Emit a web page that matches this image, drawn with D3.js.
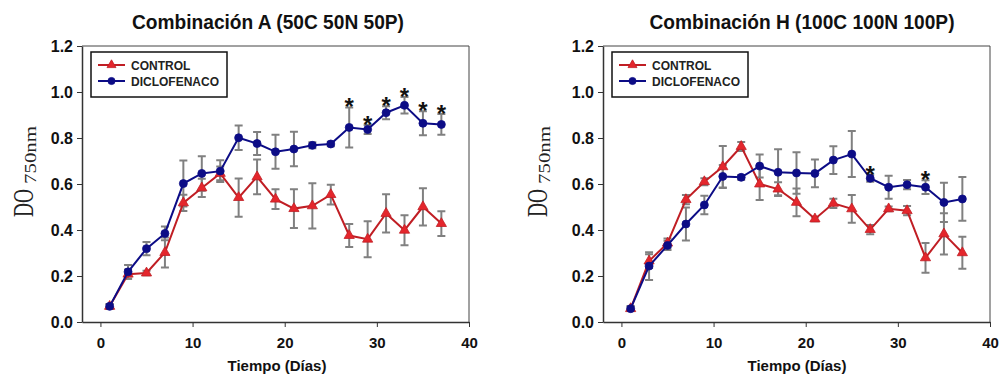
<!DOCTYPE html>
<html>
<head>
<meta charset="utf-8">
<script src="https://cdn.jsdelivr.net/npm/d3@7"></script>
<style>
  body { margin: 0; background: #fff; }
  svg { display: block; }
  .tick text { font-family: "Liberation Sans", Arial, sans-serif; font-weight: bold; }
</style>
</head>
<body>
<div id="chart"></div>
<script>
// days sampled
const days = [1, 3, 5, 7, 9, 11, 13, 15, 17, 19, 21, 23, 25, 27, 29, 31, 33, 35, 37];

// Combinacion A
const ctrlA    = [0.068, 0.208, 0.213, 0.302, 0.518, 0.583, 0.646, 0.541, 0.631, 0.534, 0.493, 0.505, 0.554, 0.376, 0.360, 0.472, 0.399, 0.501, 0.428];
const ctrlAErr = [0.010, 0.020, 0.010, 0.065, 0.035, 0.040, 0.030, 0.083, 0.076, 0.043, 0.084, 0.098, 0.043, 0.050, 0.078, 0.083, 0.065, 0.081, 0.054];
const dicA     = [0.068, 0.218, 0.319, 0.385, 0.602, 0.646, 0.656, 0.801, 0.776, 0.740, 0.752, 0.768, 0.774, 0.846, 0.837, 0.910, 0.942, 0.864, 0.859];
const dicAErr  = [0.010, 0.030, 0.029, 0.030, 0.100, 0.075, 0.047, 0.053, 0.050, 0.074, 0.075, 0.013, 0.010, 0.087, 0.020, 0.028, 0.036, 0.052, 0.045];
const starsA   = [27, 29, 31, 33, 35, 37];

// Combinacion H
const ctrlH    = [0.058, 0.265, 0.343, 0.532, 0.610, 0.675, 0.763, 0.600, 0.578, 0.520, 0.448, 0.516, 0.492, 0.402, 0.492, 0.484, 0.279, 0.383, 0.301];
const ctrlHErr = [0.010, 0.030, 0.020, 0.020, 0.015, 0.090, 0.020, 0.070, 0.030, 0.060, 0.010, 0.020, 0.060, 0.020, 0.010, 0.020, 0.065, 0.090, 0.070];
const dicH     = [0.058, 0.243, 0.333, 0.426, 0.509, 0.633, 0.629, 0.678, 0.651, 0.648, 0.646, 0.704, 0.730, 0.625, 0.586, 0.597, 0.586, 0.520, 0.535];
const dicHErr  = [0.010, 0.060, 0.020, 0.072, 0.040, 0.050, 0.010, 0.050, 0.100, 0.090, 0.060, 0.060, 0.100, 0.015, 0.050, 0.020, 0.030, 0.085, 0.095];
const starsH   = [27, 33];

const xTicks = [0, 10, 20, 30, 40];
const yTicks = [0, 0.2, 0.4, 0.6, 0.8, 1.0, 1.2];
const seriesNames = ["CONTROL", "DICLOFENACO"];

const W = 999, H = 379;
const red = "#c01e24", redFill = "#e4262c", blue = "#0c0c86", errColor = "#808080";

const svg = d3.select("#chart").append("svg")
  .attr("width", W)
  .attr("height", H);

function drawPanel(p) {
  const pw = 387, ph = 276;
  const g = svg.append("g").attr("transform", "translate(" + p.left + "," + p.top + ")");

  const x = d3.scaleLinear().domain([-2, 40]).range([0, pw]);
  const y = d3.scaleLinear().domain([0, 1.2]).range([ph, 0]);

  // frame (top/right)
  g.append("path")
    .attr("d", "M0,0H" + pw + "V" + ph)
    .attr("fill", "none")
    .attr("stroke", "#444")
    .attr("stroke-width", 1);

  const xAxis = g.append("g")
    .attr("transform", "translate(0," + ph + ")")
    .call(d3.axisBottom(x).tickValues(xTicks).tickSize(5).tickPadding(10).tickSizeOuter(0));
  const yAxis = g.append("g")
    .call(d3.axisLeft(y).tickValues(yTicks).tickFormat(d3.format(".1f")).tickSize(5).tickPadding(4).tickSizeOuter(0));

  [xAxis, yAxis].forEach(a => {
    a.select(".domain").attr("stroke", "#333").attr("stroke-width", 1.5);
    a.selectAll(".tick line").attr("stroke", "#333");
    a.selectAll(".tick text").attr("fill", "#111");
  });
  xAxis.selectAll(".tick text").style("font-size", "15px");
  yAxis.selectAll(".tick text").style("font-size", "16px");

  const series = [
    { vals: p.ctrl, err: p.ctrlErr, color: red, fill: redFill, shape: d3.symbolTriangle },
    { vals: p.dic, err: p.dicErr, color: blue, fill: blue, shape: d3.symbolCircle }
  ];

  // error bars
  series.forEach(s => {
    const eb = g.append("g")
      .attr("stroke", errColor)
      .attr("stroke-width", 2)
      .attr("fill", "none");
    eb.selectAll("path")
      .data(days.map((d, i) => [d, s.vals[i], s.err[i]]))
      .enter()
      .append("path")
      .attr("d", d => {
        const cx = x(d[0]), t = y(d[1] + d[2]), b = y(d[1] - d[2]);
        return "M" + (cx - 4) + "," + t + "H" + (cx + 4) + "M" + cx + "," + t + "V" + b + "M" + (cx - 4) + "," + b + "H" + (cx + 4);
      });
  });

  const line = d3.line().x(d => x(d[0])).y(d => y(d[1]));

  series.forEach(s => {
    const pts = days.map((d, i) => [d, s.vals[i]]);
    g.append("path")
      .datum(pts)
      .attr("d", line)
      .attr("fill", "none")
      .attr("stroke", s.color)
      .attr("stroke-width", 2);
    g.selectAll(null)
      .data(pts)
      .enter()
      .append("path")
      .attr("transform", d => "translate(" + x(d[0]) + "," + y(d[1]) + ")")
      .attr("d", d3.symbol().type(s.shape).size(s.shape === d3.symbolCircle ? 50 : 45))
      .attr("fill", s.fill)
      .attr("stroke", s.color)
      .attr("stroke-width", 0.8);
  });

  // significance asterisks
  g.selectAll(".star")
    .data(p.stars)
    .enter()
    .append("text")
    .attr("class", "star")
    .attr("x", d => x(d))
    .attr("y", d => {
      const i = days.indexOf(d);
      return y(p.dic[i] + p.dicErr[i]) + 8;
    })
    .attr("text-anchor", "middle")
    .style("font-family", "Liberation Sans, Arial, sans-serif")
    .style("font-weight", "bold")
    .style("font-size", "24px")
    .attr("fill", "#111")
    .text("*");

  // legend
  const lg = g.append("g").attr("transform", "translate(9,6)");
  lg.append("rect")
    .attr("width", 136).attr("height", 45)
    .attr("fill", "#fff").attr("stroke", "#111").attr("stroke-width", 1.5);
  series.forEach((s, i) => {
    const ly = 13 + i * 16;
    lg.append("line")
      .attr("x1", 7).attr("x2", 34).attr("y1", ly).attr("y2", ly)
      .attr("stroke", s.color).attr("stroke-width", 2);
    lg.append("path")
      .attr("transform", "translate(20.5," + ly + ")")
      .attr("d", d3.symbol().type(s.shape).size(s.shape === d3.symbolCircle ? 40 : 35))
      .attr("fill", s.fill).attr("stroke", s.color).attr("stroke-width", 0.8);
    lg.append("text")
      .attr("x", 40).attr("y", ly + 4.5)
      .style("font-family", "Liberation Sans, Arial, sans-serif")
      .style("font-weight", "bold")
      .style("font-size", "12px")
      .attr("fill", "#222")
      .text(seriesNames[i]);
  });

  // title
  svg.append("text")
    .attr("x", p.titleX).attr("y", 29)
    .attr("text-anchor", "middle")
    .attr("textLength", p.titleLen)
    .attr("lengthAdjust", "spacingAndGlyphs")
    .style("font-family", "Liberation Sans, Arial, sans-serif")
    .style("font-weight", "bold")
    .style("font-size", "20px")
    .attr("fill", "#111")
    .text(p.title);

  // x label
  svg.append("text")
    .attr("x", p.xLabelX).attr("y", 371)
    .attr("text-anchor", "middle")
    .style("font-family", "Liberation Sans, Arial, sans-serif")
    .style("font-weight", "bold")
    .style("font-size", "15px")
    .attr("fill", "#111")
    .text("Tiempo (Días)");

  // y label DO with subscript
  const yl = svg.append("g").attr("transform", "translate(" + p.yLabelX + ",0) rotate(-90)");
  yl.append("text")
    .attr("x", -217).attr("y", 0)
    .attr("textLength", 28)
    .attr("lengthAdjust", "spacingAndGlyphs")
    .style("font-family", "Liberation Serif, Times New Roman, serif")
    .style("font-size", "30px")
    .attr("fill", "#222")
    .text("DO");
  yl.append("text")
    .attr("x", -184).attr("y", 3)
    .attr("textLength", 58)
    .attr("lengthAdjust", "spacingAndGlyphs")
    .style("font-family", "Liberation Serif, Times New Roman, serif")
    .style("font-size", "16px")
    .attr("fill", "#222")
    .text("750nm");
}

drawPanel({
  left: 82, top: 46,
  ctrl: ctrlA, ctrlErr: ctrlAErr, dic: dicA, dicErr: dicAErr, stars: starsA,
  title: "Combinación A (50C 50N 50P)", titleX: 268, titleLen: 272,
  xLabelX: 277, yLabelX: 33
});

drawPanel({
  left: 603, top: 46,
  ctrl: ctrlH, ctrlErr: ctrlHErr, dic: dicH, dicErr: dicHErr, stars: starsH,
  title: "Combinación H (100C 100N 100P)", titleX: 802, titleLen: 305,
  xLabelX: 797, yLabelX: 547
});
</script>
</body>
</html>
